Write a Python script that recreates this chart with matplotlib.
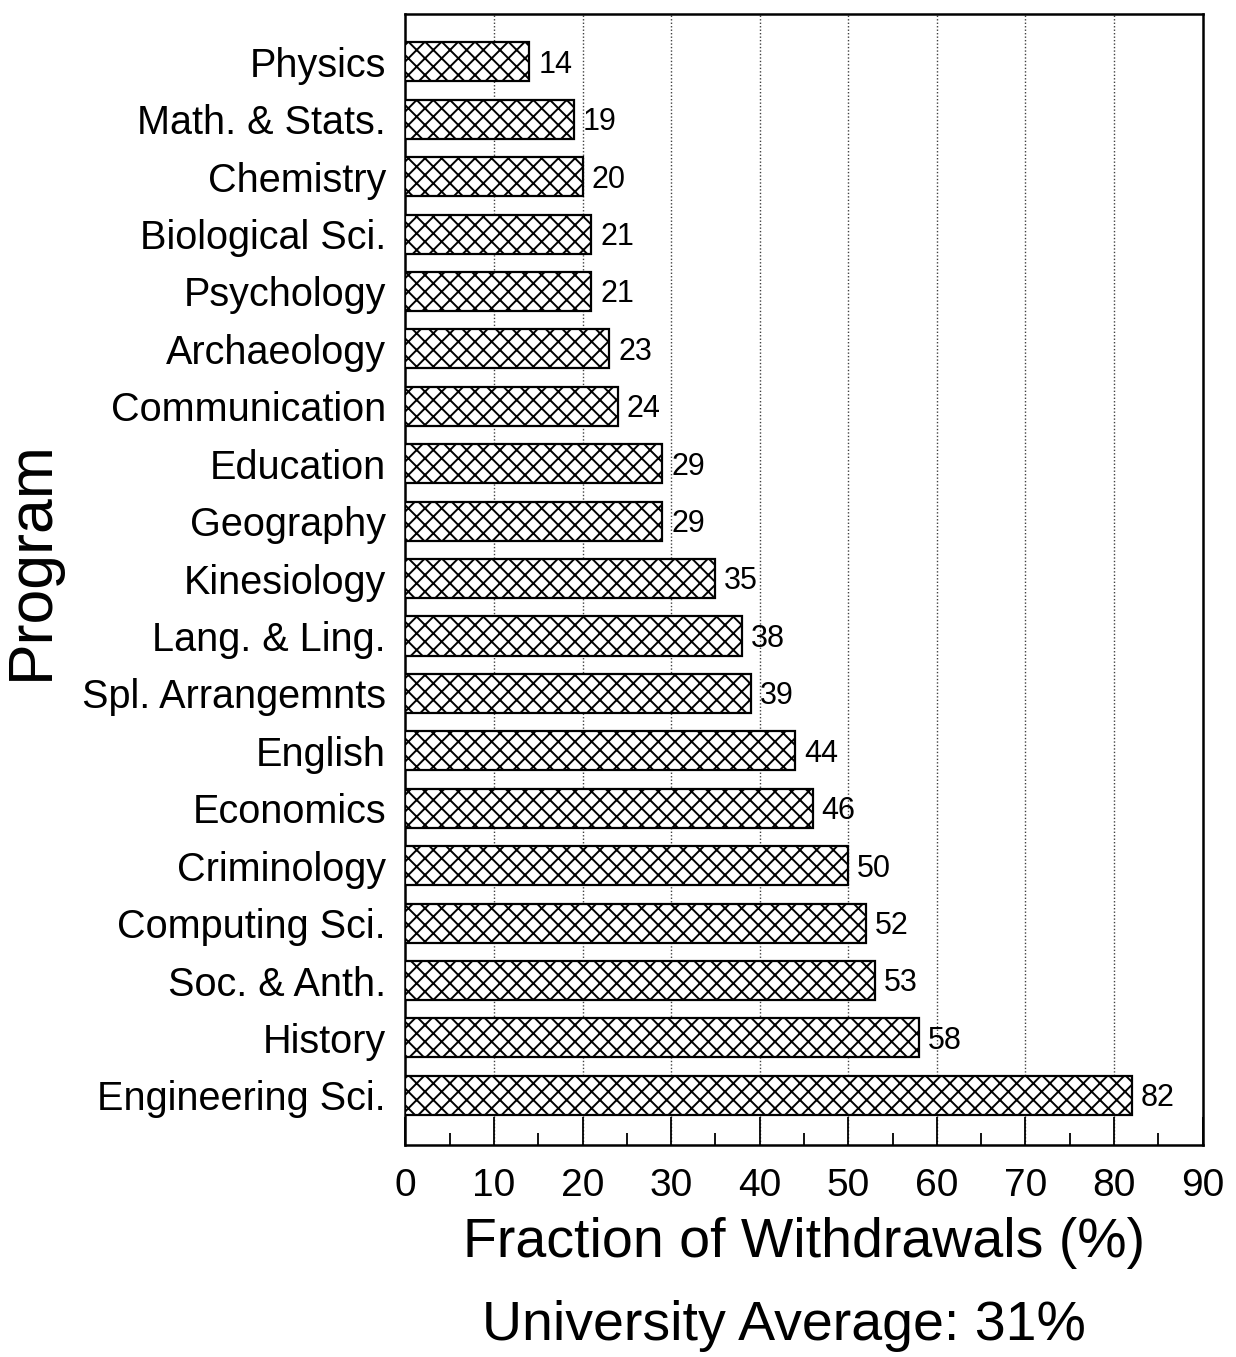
import matplotlib
matplotlib.use("Agg")
import matplotlib.pyplot as plt
from matplotlib.ticker import MultipleLocator

plt.rcParams['font.family'] = ['Liberation Sans', 'DejaVu Sans']
plt.rcParams['hatch.linewidth'] = 1.4

programs = ["Physics", "Math. & Stats.", "Chemistry", "Biological Sci.", "Psychology",
            "Archaeology", "Communication", "Education", "Geography", "Kinesiology",
            "Lang. & Ling.", "Spl. Arrangemnts", "English", "Economics", "Criminology",
            "Computing Sci.", "Soc. & Anth.", "History", "Engineering Sci."]
withdrawals = [14, 19, 20, 21, 21, 23, 24, 29, 29, 35, 38, 39, 44, 46, 50, 52, 53, 58, 82]
xticks = [0, 10, 20, 30, 40, 50, 60, 70, 80, 90]
university_avg = 31

fig = plt.figure(figsize=(12.36, 13.57), dpi=100)
ax = fig.add_axes([0.328, 0.156, 0.645, 0.834])

pos = list(range(len(programs)))
bars = ax.barh(pos, withdrawals, height=0.68, color='white', edgecolor='black',
               linewidth=1.6, hatch='xx', zorder=3)
for p, v in zip(pos, withdrawals):
    ax.text(v + 1.0, p + 0.05, str(v), va='center', ha='left', fontsize=22, zorder=4)

ax.set_xlim(0, 90)
ax.set_ylim(len(programs) - 1 + 0.87, -0.84)
ax.set_xticks(xticks)
ax.xaxis.set_minor_locator(MultipleLocator(5))
ax.tick_params(axis='x', which='major', direction='in', length=20, width=1.3,
               labelsize=28, pad=16)
ax.tick_params(axis='x', which='minor', direction='in', length=9, width=1.3)
ax.set_yticks(pos)
ax.set_yticklabels(programs, fontsize=28.5)
ax.tick_params(axis='y', length=0, pad=14)

for g in xticks[1:-1]:
    ax.axvline(g, color='0.25', linestyle=(0, (1, 1.5)), linewidth=1.0, zorder=1)

for s in ax.spines.values():
    s.set_linewidth(1.8)

ax.set_xlabel("Fraction of Withdrawals (%)", fontsize=40, labelpad=10)
ax.set_ylabel("Program", fontsize=45)
ax.yaxis.set_label_coords(-0.432, 0.517)
fig.text(0.634, 0.023, f"University Average: {university_avg}%", fontsize=40,
         ha='center', va='center')

fig.savefig("out.png", dpi=100)
